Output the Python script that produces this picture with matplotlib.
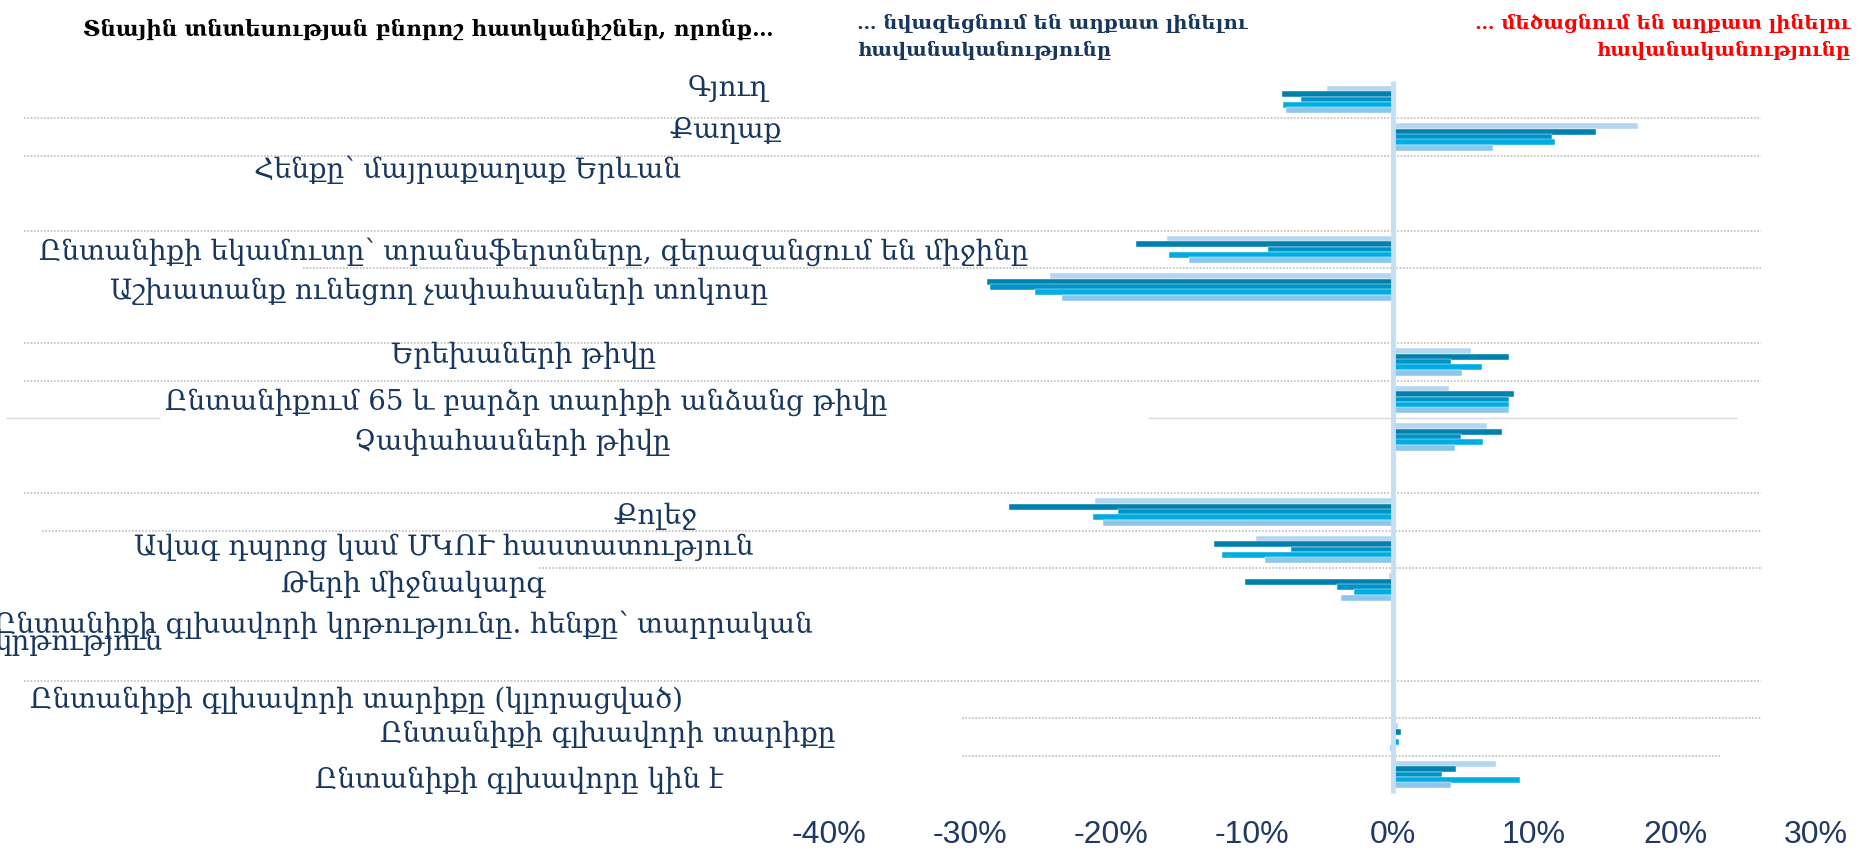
import numpy as np
import matplotlib
matplotlib.use('Agg')
import matplotlib.pyplot as plt

plt.rcParams['font.family'] = ['DejaVu Serif', 'DejaVu Sans']

# categories, top to bottom ('' = empty spacer row)
categories = [
    'Գյուղ',
    'Քաղաք',
    'Հենքը՝ մայրաքաղաք Երևան',
    '',
    'Ընտանիքի եկամուտը՝ տրանսֆերտները, գերազանցում են միջինը',
    'Աշխատանք ունեցող չափահասների տոկոսը',
    '',
    'Երեխաների թիվը',
    'Ընտանիքում 65 և բարձր տարիքի անձանց թիվը',
    'Չափահասների թիվը',
    '',
    'Քոլեջ',
    'Ավագ դպրոց կամ ՄԿՈՒ հաստատություն',
    'Թերի միջնակարգ',
    'Ընտանիքի գլխավորի կրթությունը. հենքը՝ տարրական',
    '',
    'Ընտանիքի գլխավորի տարիքը (կլորացված)',
    'Ընտանիքի գլխավորի տարիքը',
    'Ընտանիքի գլխավորը կին է',
]
base_second_line = 'կրթություն'

nan = np.nan
# five series (effect on probability of being poor, %)
series_1 = [-4.7, 17.4, nan, nan, -16.0, -24.3, nan, 5.5, 4.0, 6.7, nan, -21.1, -9.7, -0.3, nan, nan, 0.0, 0.35, 7.3]
series_2 = [-7.9, 14.4, nan, nan, -18.2, -28.8, nan, 8.2, 8.6, 7.7, nan, -27.2, -12.7, -10.5, nan, nan, 0.0, 0.55, 4.5]
series_3 = [-6.5, 11.3, nan, nan, -8.9, -28.6, nan, 4.1, 8.2, 4.8, nan, -19.5, -7.2, -4.0, nan, nan, 0.0, 0.0, 3.5]
series_4 = [-7.8, 11.5, nan, nan, -15.9, -25.4, nan, 6.3, 8.2, 6.4, nan, -21.3, -12.1, -2.8, nan, nan, 0.0, 0.45, 9.0]
series_5 = [-7.6, 7.1, nan, nan, -14.5, -23.5, nan, 4.9, 8.2, 4.4, nan, -20.6, -9.1, -3.7, nan, nan, 0.0, -0.2, 4.1]

xticks = [-40, -30, -20, -10, 0, 10, 20, 30]

title_left = 'Տնային տնտեսության բնորոշ հատկանիշներ, որոնք…'
title_mid = '… նվազեցնում են աղքատ լինելու\nհավանականությունը'
title_right = '… մեծացնում են աղքատ լինելու\nհավանականությունը'

# ---- layout helpers (pixel geometry of the 1866x854 canvas)
W, H = 1866, 854
ZERO_PX, PX_PER_PCT = 1393, 14.1
SLOT0_PX, SLOT_PX = 100.25, 37.5
AX_TOP, AX_BOT = 40, 810


def px_to_x(px):
    return (px - ZERO_PX) / PX_PER_PCT


fig = plt.figure(figsize=(W / 100, H / 100), dpi=100)
ax = fig.add_axes([0, (H - AX_BOT) / H, 1, (AX_BOT - AX_TOP) / H])
ax.set_xlim(px_to_x(0), px_to_x(W))
ax.set_ylim((AX_BOT - SLOT0_PX) / SLOT_PX, (AX_TOP - SLOT0_PX) / SLOT_PX)
for s in ax.spines.values():
    s.set_visible(False)

y = np.arange(len(categories))
colors = ['#b4d6ef', '#0080ad', '#0093c8', '#00ade2', '#8cc7eb']
offsets = [-0.28, -0.135, 0.005, 0.15, 0.295]
for vals, col, off in zip([series_1, series_2, series_3, series_4, series_5], colors, offsets):
    ax.barh(y + off, vals, height=0.155, color=col, edgecolor='white', linewidth=0.3, zorder=2)

# zero line
ax.vlines(0, -0.5, 18.5, color='#c4def6', linewidth=3.5, zorder=3)

# dotted separators (boundary below row k) with their horizontal extents in px
grid_rows = [0, 1, 3, 4, 6, 7, 10, 11, 12, 15, 16, 17]
grid_start = [24, 24, 24, 303, 24, 24, 24, 42, 539, 24, 962, 962]
grid_end = [1761, 1761, 1761, 1761, 1761, 1761, 1761, 1761, 1761, 1761, 1761, 1720]
for k, x0, x1 in zip(grid_rows, grid_start, grid_end):
    ax.hlines(k + 0.5, px_to_x(x0), px_to_x(x1), color='#bdbdbd', linewidth=1.2,
              linestyle=(0, (1, 1)), zorder=1)
# faint solid segments near the 65+ row
ax.hlines(8.5, px_to_x(6), px_to_x(160), color='#d9d9d9', linewidth=1.0, zorder=1)
ax.hlines(8.5, px_to_x(1148), px_to_x(1737), color='#d9d9d9', linewidth=1.0, zorder=1)

# category labels
label_color = '#17375e'
label_xpx = [728, 726, 468, 0, 534, 439, 0, 524, 526, 512, 0, 655, 444, 413, 0, 0, 357, 608, 519]
label_dy = [-0.3, -0.18, -0.14, 0, 0.05, 0.1, 0, -0.21, 0.05, 0.13, 0, 0.1, -0.08, -0.08, 0, 0, 0, -0.1, 0.13]
for k, lab in enumerate(categories):
    if not lab:
        continue
    if k == 14:
        ax.text(px_to_x(-6), k - 0.02, lab, ha='left', va='center', fontsize=20, color=label_color)
        ax.text(px_to_x(-6), k + 0.46, base_second_line, ha='left', va='center', fontsize=20,
                color=label_color)
        continue
    ax.text(px_to_x(label_xpx[k]), k + label_dy[k], lab, ha='center', va='center',
            fontsize=20, color=label_color)

# x ticks
ax.set_xticks(xticks)
ax.set_xticklabels([f'{t}%' for t in xticks], fontsize=23, color='#1f3864', family='Liberation Sans')
ax.tick_params(axis='x', length=0, pad=7)
ax.set_yticks([])

# headers
fig.text(83 / W, 1 - 30 / H, title_left, ha='left', va='center', fontsize=15.5,
         fontweight='bold', color='black')
fig.text(857 / W, 1 - 37 / H, title_mid, ha='left', va='center', fontsize=14,
         fontweight='bold', color='#17375e', linespacing=1.55)
fig.text(1850 / W, 1 - 37 / H, title_right, ha='right', va='center', fontsize=14,
         fontweight='bold', color='#ff0000', linespacing=1.55)

plt.savefig('out.png', dpi=100)
